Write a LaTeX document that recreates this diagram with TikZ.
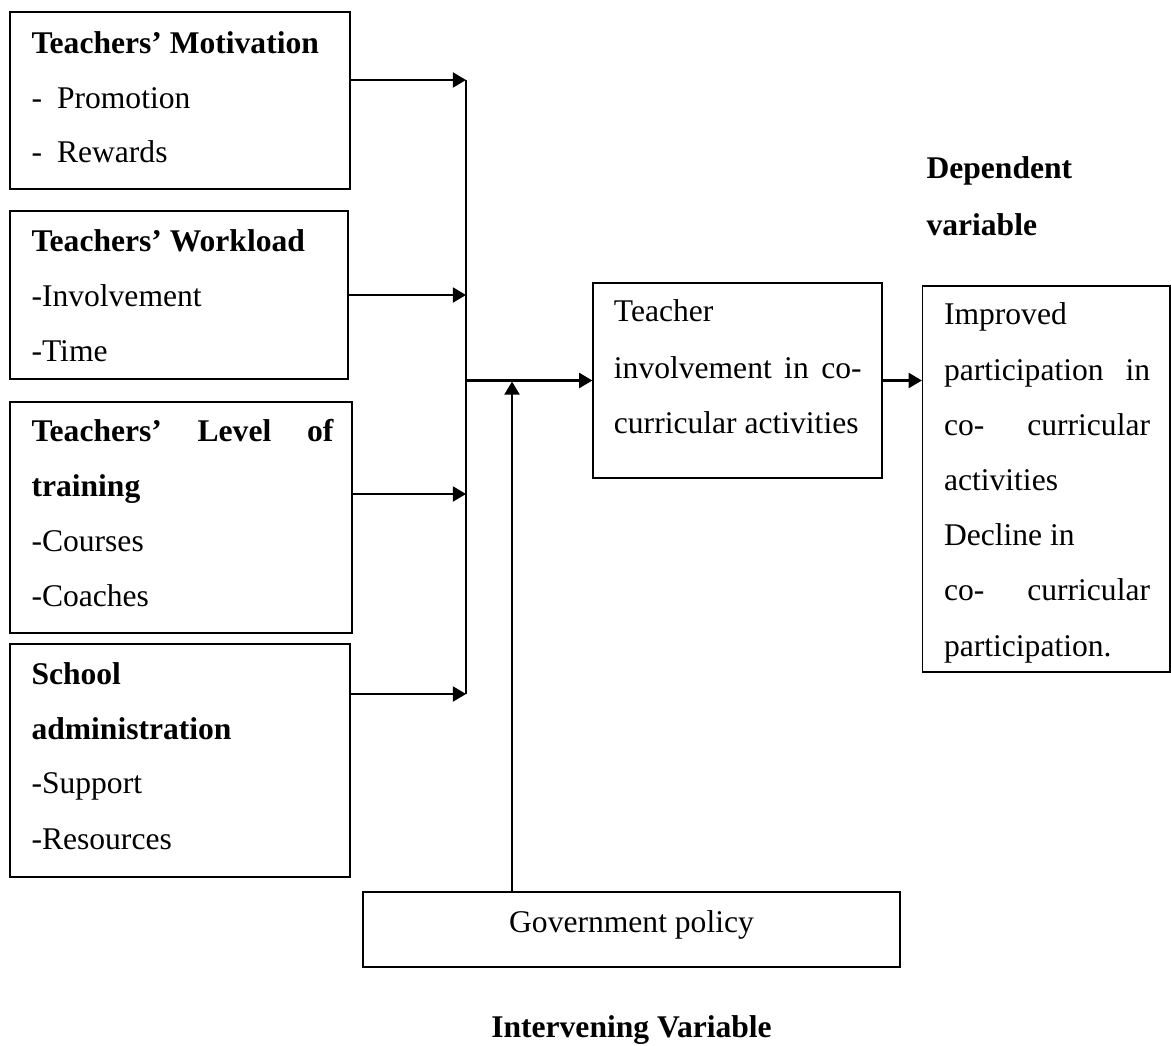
\documentclass[tikz,border=0pt]{standalone}
\usepackage{fontspec}
\setmainfont{Liberation Serif}
\usetikzlibrary{arrows.meta,fit}
\begin{document}
\begin{tikzpicture}[x=0.38pt,y=-0.38pt,
  box/.style={draw, line width=0.5pt, inner sep=0pt},
  txt/.style={anchor=base west, inner sep=0pt, font=\fontsize{12pt}{14pt}\selectfont},
  ctxt/.style={anchor=base, inner sep=0pt, font=\fontsize{12pt}{14pt}\selectfont},
  arr/.style={line width=0.8pt, -{Triangle[length=5pt,width=5.7pt]}},
  busline/.style={line width=0.6pt}]
\useasboundingbox (0,0) rectangle (1171,1045);

% boxes
\node[box, fit={(10,12) (350,189)}] (b1) {};
\node[box, fit={(10,211) (348,379)}] (b2) {};
\node[box, fit={(10,402) (352,633)}] (b3) {};
\node[box, fit={(10,644) (350,877)}] (b4) {};
\node[box, fit={(593,283) (882,478)}] (mid) {};
\node[box, fit={(922.5,286) (1170,672)}] (dep) {};
\node[box, fit={(363,892) (900,967)}] (gov) {};

% texts box 1
\node[txt] (b1t1) at (31,53.3) {\textbf{Teachers’ Motivation}};
\node[txt] (b1t2) at (31,108.3) {-\hspace{5.7pt}Promotion};
\node[txt] (b1t3) at (31,162.7) {-\hspace{5.7pt}Rewards};
% box 2
\node[txt] (b2t1) at (31,251.7) {\textbf{Teachers’ Workload}};
\node[txt] (b2t2) at (31,306.7) {-Involvement};
\node[txt] (b2t3) at (31,361.7) {-Time};
% box 3
\node[txt] (b3t1) at (31,441.7) {\makebox[114.8pt][s]{\textbf{Teachers’ Level of}}};
\node[txt] (b3t2) at (31,496.7) {\textbf{training}};
\node[txt] (b3t3) at (31,551.7) {-Courses};
\node[txt] (b3t4) at (31,606.7) {-Coaches};
% box 4
\node[txt] (b4t1) at (31,684) {\textbf{School}};
\node[txt] (b4t2) at (31,739.3) {\textbf{administration}};
\node[txt] (b4t3) at (31,793.3) {-Support};
\node[txt] (b4t4) at (31,849) {-Resources};
% middle box
\node[txt] (mt1) at (613.4,321.7) {Teacher};
\node[txt] (mt2) at (613.4,378.3) {\makebox[94.1pt][s]{involvement in co-}};
\node[txt] (mt3) at (613.4,433.3) {curricular activities};
% dependent box
\node[txt] (dt1) at (943.5,324.3) {Improved};
\node[txt] (dt2) at (943.5,380) {\makebox[78.3pt][s]{participation in}};
\node[txt] (dt3) at (943.5,435) {\makebox[78.3pt][s]{co- curricular}};
\node[txt] (dt4) at (943.5,490) {activities};
\node[txt] (dt5) at (943.5,545) {Decline in};
\node[txt] (dt6) at (943.5,600.7) {\makebox[78.3pt][s]{co- curricular}};
\node[txt] (dt7) at (943.5,656) {participation.};
% labels
\node[txt] (dl1) at (926,179) {\textbf{Dependent}};
\node[txt] (dl2) at (926,235) {\textbf{variable}};
\node[ctxt] (gt) at (631.5,932) {Government policy};
\node[ctxt] (il) at (631.5,1037) {\textbf{Intervening Variable}};

% connectors
\coordinate (t1) at (466,80);
\coordinate (t2) at (466,295);
\coordinate (t3) at (466,494);
\coordinate (t4) at (466,694);
\coordinate (g) at (512,381.5);
\draw[arr] (b1.east |- t1) -- (t1);
\draw[arr] (b2.east |- t2) -- (t2);
\draw[arr] (b3.east |- t3) -- (t3);
\draw[arr] (b4.east |- t4) -- (t4);
\draw[busline] (t1) -- (t4);
\draw[arr] (t1 |- mid.west) -- (mid.west);
\draw[arr] (gov.north -| g) -- (g);
\draw[arr] (mid.east) -- (mid.east -| dep.west);
\end{tikzpicture}
\end{document}
